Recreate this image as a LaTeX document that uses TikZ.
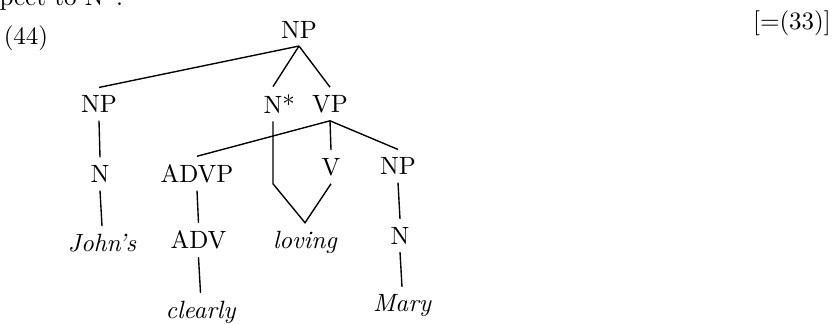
\documentclass[tikz,border=0pt]{standalone}
\usepackage{tikz}
\tikzset{
  cat/.style={inner sep=3pt},
  word/.style={inner sep=3pt,font=\itshape},
  branch/.style={line width=0.55pt}
}
\begin{document}
\begin{tikzpicture}[x=0.4pt,y=-0.4pt]
\useasboundingbox (0,0) rectangle (840,324);
%\draw[step=20,gray!30,very thin] (0,0) grid (840,324); %background grid
\node[anchor=base west,inner sep=0pt] (prev) at (-1,6) {pect to N*:};
\node[] (exnum) at (26,38) {(44)};
\node[] (exref) at (792,23) {[=(33)]};
% top level
\node[cat] (np0) at (299,29.5) {NP};
\node[cat] (np1) at (99,104) {NP};
\node[cat] (nstar) at (273,104) {N\rlap{*}};
\node[cat] (vp) at (330,104) {VP};
% left branch
\node[cat] (n1) at (100,174) {N};
\node[word] (johns) at (102,243) {John's};
% under VP
\node[cat] (advp) at (197,173.5) {ADVP};
\node[cat] (adv) at (198.5,240) {ADV};
\node[word] (clearly) at (200.5,312) {clearly};
\node[cat] (v) at (331,167) {V};
\node[word] (loving) at (305,242) {loving};
\node[cat] (np2) at (398,166) {NP};
\node[cat] (n2) at (400,235.5) {N};
\node[word] (mary) at (402,306) {Mary};
\coordinate (kink) at (nstar |- v.south);
\draw[branch] (np0.south) -- (np1.north);
\draw[branch] (np0.south) -- (nstar.north);
\draw[branch] (np0.south) -- (vp.north);
\draw[branch] (np1.south) -- (n1.north);
\draw[branch] (n1.south) -- (johns.north);
\draw[branch] (vp.south) -- (advp.north);
\draw[branch] (vp.south) -- (v.north);
\draw[branch] (vp.south) -- (np2.north);
\draw[branch] (advp.south) -- (adv.north);
\draw[branch] (adv.south) -- (clearly.north);
\draw[branch] (np2.south) -- (n2.north);
\draw[branch] (n2.south) -- (mary.north);
\draw[branch] (nstar.south) -- (kink) -- (loving.north) -- (v.south); %shared word
\end{tikzpicture}
\end{document}
